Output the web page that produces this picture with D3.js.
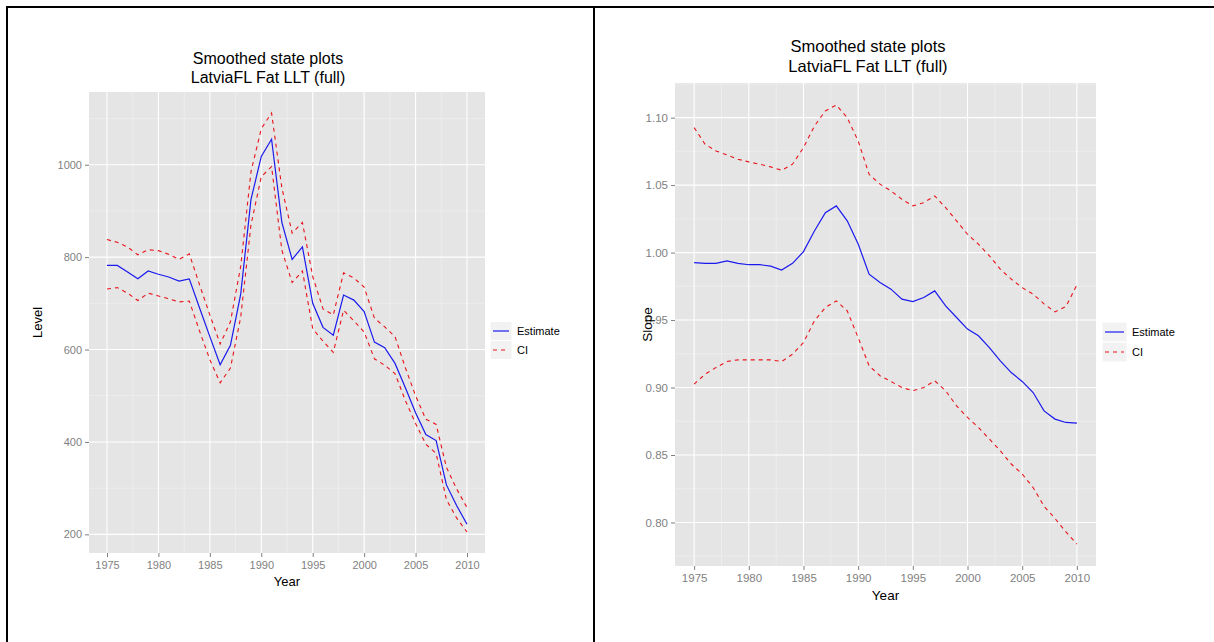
<!DOCTYPE html>
<html><head><meta charset="utf-8">
<script src="https://cdn.jsdelivr.net/npm/d3@7"></script>
<style>body{margin:0;background:#fff}svg{display:block}text{font-family:"Liberation Sans",Arial,sans-serif}</style>
</head><body>
<svg id="c" width="1214" height="642"></svg>
<script>
const years = [1975,1976,1977,1978,1979,1980,1981,1982,1983,1984,1985,1986,1987,1988,1989,1990,1991,1992,1993,1994,1995,1996,1997,1998,1999,2000,2001,2002,2003,2004,2005,2006,2007,2008,2009,2010];
const xTicks = [1975,1980,1985,1990,1995,2000,2005,2010];

const levelEstimate = [782,782,768,753,770,763,757,748,753,690,628,567,609,720,925,1018,1055,875,795,822,700,648,631,718,707,682,616,604,570,518,463,416,403,307,262,222];
const levelUpper = [838,832,822,805,816,814,806,795,807,740,675,612,660,780,985,1078,1112,950,852,875,758,688,675,766,755,735,668,649,628,561,500,449,438,345,298,258];
const levelLower = [731,734,722,706,722,716,710,703,705,640,578,528,560,670,870,974,996,815,745,770,645,618,594,685,662,638,580,566,548,490,440,395,375,275,235,205];
const levelTicks = [200,400,600,800,1000];

const slopeEstimate = [0.9926,0.992,0.992,0.9939,0.992,0.991,0.991,0.990,0.987,0.992,1.0007,1.016,1.0296,1.0346,1.0235,1.0064,0.984,0.9778,0.9729,0.9655,0.9637,0.9667,0.9716,0.9605,0.9519,0.9433,0.9383,0.9296,0.9198,0.9111,0.9045,0.8963,0.8827,0.8766,0.8741,0.8736];
const slopeUpper = [1.0926,1.0803,1.0753,1.0724,1.0692,1.0672,1.0655,1.0635,1.061,1.0655,1.0778,1.0938,1.105,1.1094,1.10,1.0827,1.058,1.0507,1.0457,1.0395,1.0346,1.037,1.042,1.0333,1.0235,1.0136,1.0062,0.9976,0.9877,0.9803,0.974,0.9692,0.962,0.956,0.960,0.976];
const slopeLower = [0.9025,0.9099,0.9148,0.9193,0.9205,0.9205,0.9205,0.9205,0.9193,0.9247,0.9333,0.9494,0.9593,0.9642,0.9568,0.937,0.9161,0.9087,0.9045,0.90,0.8976,0.90,0.905,0.8976,0.8864,0.8778,0.8704,0.8618,0.8531,0.8433,0.8359,0.8259,0.812,0.803,0.793,0.784];
const slopeTicks = [0.80,0.85,0.90,0.95,1.00,1.05,1.10];

const titleLines = ["Smoothed state plots","LatviaFL Fat LLT (full)"];
const legendLabels = ["Estimate","CI"];

const svg = d3.select("#c");

// table borders
svg.append("rect").attr("x",6).attr("y",6).attr("width",2).attr("height",636).attr("fill","#000");
svg.append("rect").attr("x",6).attr("y",6).attr("width",1208).attr("height",2).attr("fill","#000");
svg.append("rect").attr("x",593).attr("y",6).attr("width",2).attr("height",636).attr("fill","#000");

function panel(cfg){
  const g = svg.append("g");
  const x = d3.scaleLinear().domain([1975-1.75,2010+1.75]).range([cfg.left,cfg.right]);
  const lo = d3.min(cfg.lower), hi = d3.max(cfg.upper), pad = (hi-lo)*0.05;
  const y = d3.scaleLinear().domain([lo-pad,hi+pad]).range([cfg.bottom,cfg.top]);
  g.append("rect").attr("x",cfg.left).attr("y",cfg.top).attr("width",cfg.right-cfg.left).attr("height",cfg.bottom-cfg.top).attr("fill","#e5e5e5");
  // minor grid
  const xMinor = xTicks.slice(0,-1).map(d=>d+2.5);
  const yStep = cfg.ticks[1]-cfg.ticks[0];
  const yMinor = [cfg.ticks[0]-yStep/2, ...cfg.ticks.map(d=>d+yStep/2)].filter(v=>v>y.domain()[0]&&v<y.domain()[1]);
  g.selectAll(".xm").data(xMinor).join("line").attr("x1",d=>x(d)).attr("x2",d=>x(d)).attr("y1",cfg.top).attr("y2",cfg.bottom).attr("stroke","#f2f2f2").attr("stroke-width",0.6);
  g.selectAll(".ym").data(yMinor).join("line").attr("y1",d=>y(d)).attr("y2",d=>y(d)).attr("x1",cfg.left).attr("x2",cfg.right).attr("stroke","#f2f2f2").attr("stroke-width",0.6);
  g.selectAll(".xg").data(xTicks).join("line").attr("x1",d=>x(d)).attr("x2",d=>x(d)).attr("y1",cfg.top).attr("y2",cfg.bottom).attr("stroke","#fff").attr("stroke-width",1.1);
  g.selectAll(".yg").data(cfg.ticks).join("line").attr("y1",d=>y(d)).attr("y2",d=>y(d)).attr("x1",cfg.left).attr("x2",cfg.right).attr("stroke","#fff").attr("stroke-width",1.1);
  // axes
  const xa = g.append("g").attr("transform",`translate(0,${cfg.bottom})`)
    .call(d3.axisBottom(x).tickValues(xTicks).tickFormat(d3.format("d")).tickSize(4).tickPadding(4));
  const ya = g.append("g").attr("transform",`translate(${cfg.left},0)`)
    .call(d3.axisLeft(y).tickValues(cfg.ticks).tickFormat(cfg.fmt).tickSize(4).tickPadding(3));
  [xa,ya].forEach(a=>{a.select(".domain").remove();a.selectAll("line").attr("stroke","#7f7f7f");
    a.selectAll("text").attr("fill","#7f7f7f").style("font-size",cfg.tickFont+"px").style("font-family","'Liberation Sans',Arial,sans-serif");});
  // lines
  const line = d3.line().x((d,i)=>x(years[i])).y(d=>y(d));
  g.append("path").attr("d",line(cfg.upper)).attr("fill","none").attr("stroke","#e8141a").attr("stroke-width",1.1).attr("stroke-dasharray","4,4");
  g.append("path").attr("d",line(cfg.lower)).attr("fill","none").attr("stroke","#e8141a").attr("stroke-width",1.1).attr("stroke-dasharray","4,4");
  g.append("path").attr("d",line(cfg.est)).attr("fill","none").attr("stroke","#1a1aee").attr("stroke-width",1.2);
  // titles
  titleLines.forEach((t,i)=>g.append("text").attr("x",cfg.titleX).attr("y",cfg.titleY+i*cfg.titleGap).attr("text-anchor","middle").style("font-size",cfg.titleFont+"px").attr("fill","#000").text(t));
  g.append("text").attr("x",(cfg.left+cfg.right)/2).attr("y",cfg.xlabY).attr("text-anchor","middle").style("font-size",cfg.labFont+"px").text("Year");
  g.append("text").attr("transform",`translate(${cfg.ylabX},${(cfg.top+cfg.bottom)/2}) rotate(-90)`).attr("text-anchor","middle").style("font-size",cfg.labFont+"px").text(cfg.ylab);
  // legend
  legendLabels.forEach((lab,i)=>{
    const cy = cfg.legY + i*cfg.legGap;
    g.append("rect").attr("x",cfg.legX).attr("y",cy-cfg.legGap/2).attr("width",cfg.legW).attr("height",cfg.legGap).attr("fill","#f2f2f2").attr("stroke","#fff").attr("stroke-width",1);
    g.append("line").attr("x1",cfg.legX+3).attr("x2",cfg.legX+cfg.legW-3).attr("y1",cy).attr("y2",cy)
      .attr("stroke",i==0?"#1a1aee":"#e8141a").attr("stroke-width",1.2).attr("stroke-dasharray",i==0?null:"4,4");
    g.append("text").attr("x",cfg.legX+cfg.legW+5).attr("y",cy+4).style("font-size",cfg.legFont+"px").attr("fill","#000").text(lab);
  });
}

panel({left:89,right:485,top:92,bottom:553,est:levelEstimate,upper:levelUpper,lower:levelLower,ticks:levelTicks,fmt:d3.format("d"),
  tickFont:11,titleX:268,titleY:64,titleGap:19,titleFont:16,labFont:13,xlabY:586,ylab:"Level",ylabX:42,
  legX:490,legY:331,legGap:19,legW:22,legFont:11});
panel({left:675,right:1096,top:83,bottom:566,est:slopeEstimate,upper:slopeUpper,lower:slopeLower,ticks:slopeTicks,fmt:d3.format(".2f"),
  tickFont:11.5,titleX:868,titleY:52,titleGap:20,titleFont:16.5,labFont:13.5,xlabY:600,ylab:"Slope",ylabX:652,
  legX:1102,legY:332,legGap:20,legW:25,legFont:11});
</script>
</body></html>
